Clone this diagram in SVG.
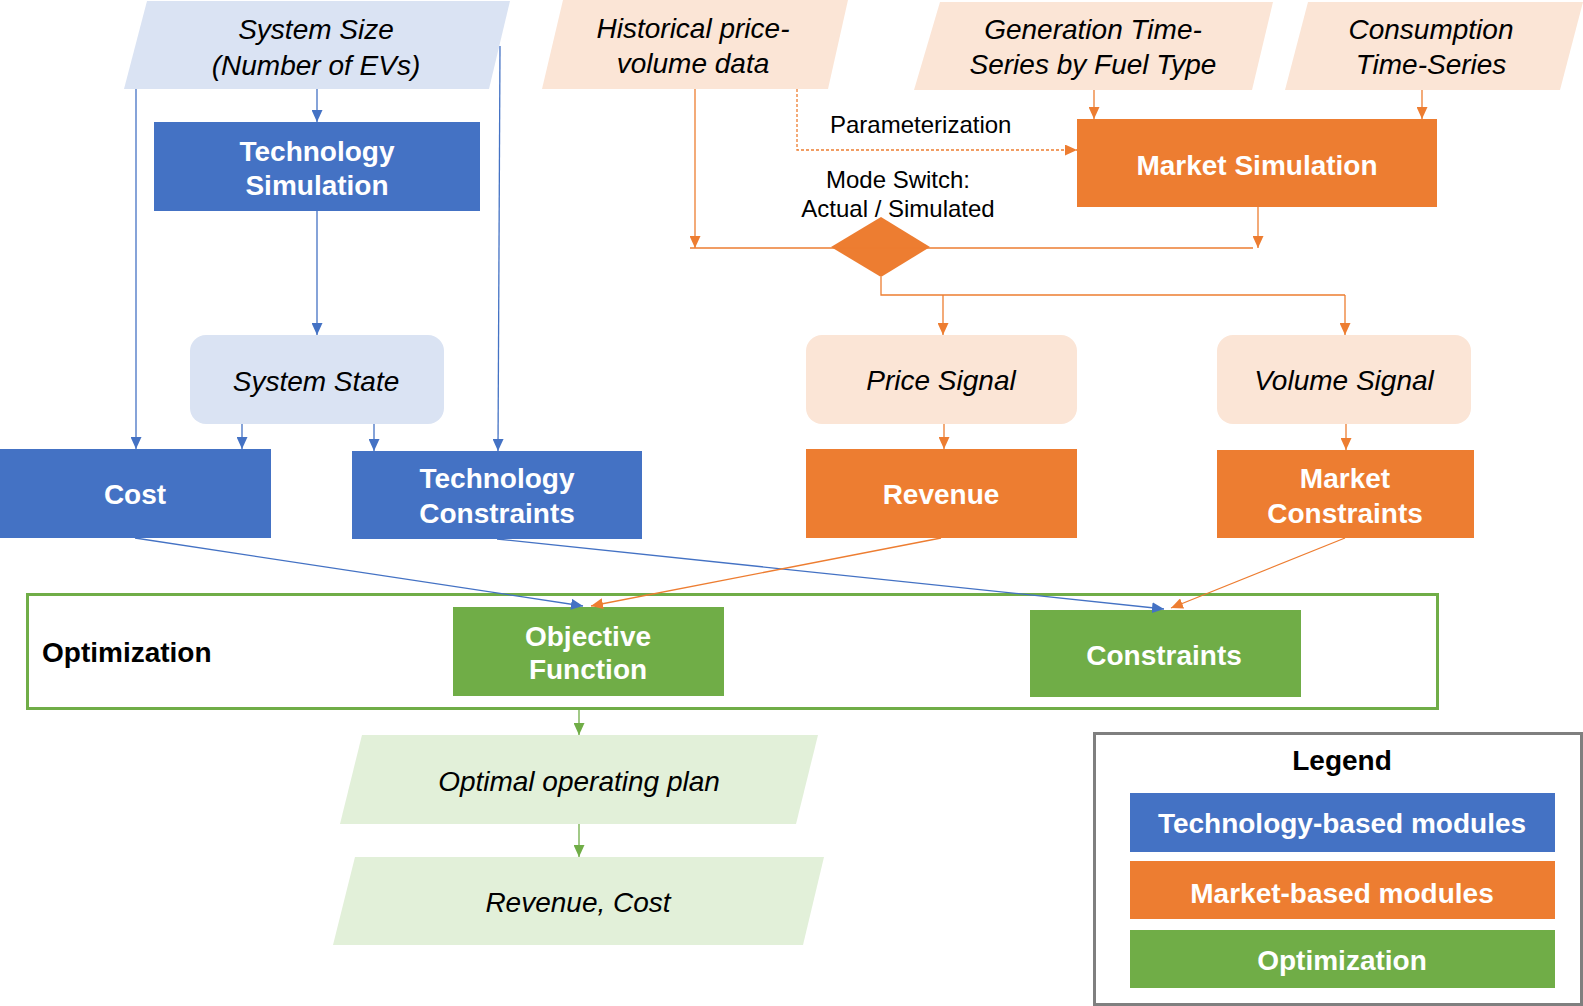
<svg xmlns="http://www.w3.org/2000/svg" width="1583" height="1006" viewBox="0 0 1583 1006">
<style>
.t{font-family:"Liberation Sans",Arial,sans-serif;text-anchor:middle}
.b{font-weight:bold;font-size:28px;fill:#fff}
.i{font-style:italic;font-size:28px;fill:#000}
.r{font-size:24px;fill:#000}
.blue{fill:#4472C4}.orange{fill:#ED7D31}.green{fill:#70AD47}
.lb{fill:#DAE3F3}.lo{fill:#FBE5D6}.lg{fill:#E2F0D9}
.cb{stroke:#4472C4;stroke-width:1.3;fill:none}
.co{stroke:#ED7D31;stroke-width:1.3;fill:none}
.cg{stroke:#70AD47;stroke-width:1.3;fill:none}
</style>
<defs>
<marker id="ab" markerUnits="userSpaceOnUse" markerWidth="12" markerHeight="11" refX="12" refY="5.5" orient="auto"><path d="M0,0 L12,5.5 L0,11 z" fill="#4472C4"/></marker>
<marker id="ao" markerUnits="userSpaceOnUse" markerWidth="12" markerHeight="11" refX="12" refY="5.5" orient="auto"><path d="M0,0 L12,5.5 L0,11 z" fill="#ED7D31"/></marker>
<marker id="ag" markerUnits="userSpaceOnUse" markerWidth="12" markerHeight="11" refX="12" refY="5.5" orient="auto"><path d="M0,0 L12,5.5 L0,11 z" fill="#70AD47"/></marker>
</defs>
<rect width="1583" height="1006" fill="#fff"/>

<g id="optimization-frame">
<rect x="27.5" y="594.5" width="1410" height="114" fill="none" stroke="#70AD47" stroke-width="3"/>
<text class="t" x="42" y="662" style="text-anchor:start;font-weight:bold;font-size:28px;fill:#000">Optimization</text>
</g>

<g id="system-size"><polygon class="lb" points="147,1 510,1 489,89 124,89"/>
<text class="t i" x="316" y="39">System Size</text><text class="t i" x="316" y="75">(Number of EVs)</text></g>
<g id="historical"><polygon class="lo" points="563,0 848,0 828,89 542,89"/>
<text class="t i" x="693" y="38">Historical price-</text><text class="t i" x="693" y="73">volume data</text></g>
<g id="generation"><polygon class="lo" points="940,2 1273,2 1252,90 914,90"/>
<text class="t i" x="1093" y="39">Generation Time-</text><text class="t i" x="1093" y="74">Series by Fuel Type</text></g>
<g id="consumption"><polygon class="lo" points="1308,2 1583,2 1560,90 1285,90"/>
<text class="t i" x="1431" y="39">Consumption</text><text class="t i" x="1431" y="74">Time-Series</text></g>

<g id="tech-sim"><rect class="blue" x="154" y="122" width="326" height="89"/>
<text class="t b" x="317" y="161">Technology</text><text class="t b" x="317" y="195">Simulation</text></g>
<g id="market-sim"><rect class="orange" x="1077" y="119" width="360" height="88"/>
<text class="t b" x="1257" y="175">Market Simulation</text></g>
<g id="mode-switch"><polygon class="orange" points="831,247 881,217 930,247 881,277"/>
<text class="t r" x="898" y="188">Mode Switch:</text><text class="t r" x="898" y="217">Actual / Simulated</text></g>
<g id="parameterization-label"><text class="t r" x="830" y="133" style="text-anchor:start">Parameterization</text></g>

<g id="system-state"><rect class="lb" x="190" y="335" width="254" height="89" rx="16"/>
<text class="t i" x="316" y="391">System State</text></g>
<g id="price-signal"><rect class="lo" x="806" y="335" width="271" height="89" rx="16"/>
<text class="t i" x="941" y="390">Price Signal</text></g>
<g id="volume-signal"><rect class="lo" x="1217" y="335" width="254" height="89" rx="16"/>
<text class="t i" x="1344" y="390">Volume Signal</text></g>

<g id="cost"><rect class="blue" x="0" y="449" width="271" height="89"/>
<text class="t b" x="135" y="504">Cost</text></g>
<g id="tech-constraints"><rect class="blue" x="352" y="451" width="290" height="88"/>
<text class="t b" x="497" y="488">Technology</text><text class="t b" x="497" y="523">Constraints</text></g>
<g id="revenue"><rect class="orange" x="806" y="449" width="271" height="89"/>
<text class="t b" x="941" y="504">Revenue</text></g>
<g id="market-constraints"><rect class="orange" x="1217" y="450" width="257" height="88"/>
<text class="t b" x="1345" y="488">Market</text><text class="t b" x="1345" y="523">Constraints</text></g>

<g id="objective"><rect class="green" x="453" y="607" width="271" height="89"/>
<text class="t b" x="588" y="646">Objective</text><text class="t b" x="588" y="679">Function</text></g>
<g id="constraints"><rect class="green" x="1030" y="610" width="271" height="87"/>
<text class="t b" x="1164" y="665">Constraints</text></g>

<g id="optimal-plan"><polygon class="lg" points="362,735 818,735 796,824 340,824"/>
<text class="t i" x="579" y="791">Optimal operating plan</text></g>
<g id="revenue-cost"><polygon class="lg" points="355,857 824,857 803,945 333,945"/>
<text class="t i" x="578" y="912">Revenue, Cost</text></g>

<g id="legend">
<rect x="1094.5" y="733.5" width="487" height="271" fill="#fff" stroke="#7F7F7F" stroke-width="3"/>
<text class="t" x="1342" y="770" style="font-weight:bold;font-size:28px;fill:#000">Legend</text>
<rect class="blue" x="1130" y="793" width="425" height="59"/>
<text class="t b" x="1342" y="833">Technology-based modules</text>
<rect class="orange" x="1130" y="861" width="425" height="58"/>
<text class="t b" x="1342" y="903">Market-based modules</text>
<rect class="green" x="1130" y="930" width="425" height="58"/>
<text class="t b" x="1342" y="970">Optimization</text>
</g>

<g id="connectors">
<path class="cb" d="M317,89 V122" marker-end="url(#ab)"/>
<path class="cb" d="M317,211 V335" marker-end="url(#ab)"/>
<path class="cb" d="M136,89 V449" marker-end="url(#ab)"/>
<path class="cb" d="M500,46 L498,451" marker-end="url(#ab)"/>
<path class="cb" d="M242,424 V449" marker-end="url(#ab)"/>
<path class="cb" d="M374,424 V451" marker-end="url(#ab)"/>
<path class="cb" d="M135,538 L583,606" marker-end="url(#ab)"/>
<path class="cb" d="M497,539 L1164,609" marker-end="url(#ab)"/>

<path class="co" d="M695,89 V248" marker-end="url(#ao)"/>
<path class="co" d="M690,248 H1253"/>
<path class="co" d="M1258,207 V248" marker-end="url(#ao)"/>
<path class="co" d="M797,89 V150 H1077" stroke-dasharray="3,2" marker-end="url(#ao)"/>
<path class="co" d="M1094,90 V119" marker-end="url(#ao)"/>
<path class="co" d="M1422,90 V119" marker-end="url(#ao)"/>
<path class="co" d="M881,277 V295 H1345"/>
<path class="co" d="M943,295 V335" marker-end="url(#ao)"/>
<path class="co" d="M1345,295 V335" marker-end="url(#ao)"/>
<path class="co" d="M944,424 V449" marker-end="url(#ao)"/>
<path class="co" d="M1346,424 V450" marker-end="url(#ao)"/>
<path class="co" d="M941,538 L591,606" marker-end="url(#ao)"/>
<path class="co" d="M1345,538 L1171,608" marker-end="url(#ao)"/>

<path class="cg" d="M579,709 V735" marker-end="url(#ag)"/>
<path class="cg" d="M579,824 V857" marker-end="url(#ag)"/>
</g>
</svg>
